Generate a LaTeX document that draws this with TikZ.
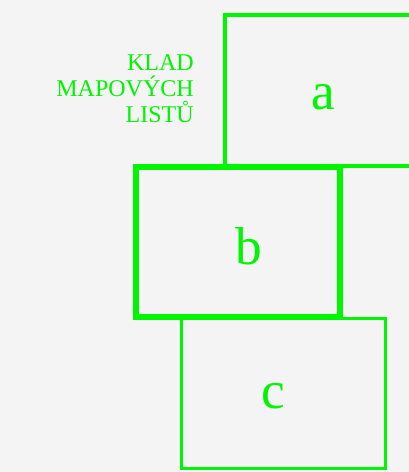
\documentclass[tikz,border=0pt]{standalone}
\usepackage{fontspec}
\setmainfont{Liberation Serif}
\definecolor{lime}{RGB}{0,245,0}
\definecolor{bg}{RGB}{244,244,244}
\begin{document}
\begin{tikzpicture}[x=0.75pt,y=-0.75pt,
  sheet/.style={draw=lime,line width=2.4pt,fill=none,anchor=north west,inner sep=0pt,outer sep=0pt},
  letter/.style={text=lime,inner sep=0pt,font=\fontsize{40}{40}\selectfont},
  title/.style={text=lime,anchor=base east,font=\fontsize{18}{18}\selectfont,inner sep=0pt}]
\fill[bg] (0,0) rectangle (409,472);
\useasboundingbox (0,0) rectangle (409,472);
\clip (0,0) rectangle (409,472);
\node[sheet,minimum width=200*0.75pt,minimum height=151*0.75pt] (a) at (225,15) {};
\node[letter] (la) at (323,97) {a};
\node[sheet,line width=3.8pt,minimum width=204*0.75pt,minimum height=150*0.75pt] (b) at (136,167) {};
\node[letter] (lb) at (249,246) {b};
\node[sheet,minimum width=204*0.75pt,minimum height=150*0.75pt] (c) at (181.5,318.5) {};
\node[letter] (lc) at (273,396) {c};
\node[title] (t1) at (194,70) {KLAD};
\node[title] (t2) at (194,96) {MAPOVÝCH};
\node[title] (t3) at (194,122) {LISTŮ};
\end{tikzpicture}
\end{document}
